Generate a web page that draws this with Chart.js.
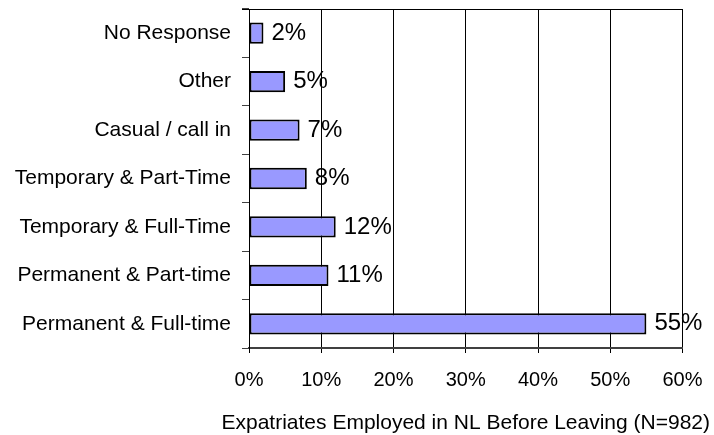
<!DOCTYPE html>
<html>
<head>
<meta charset="utf-8">
<script src="https://cdn.jsdelivr.net/npm/chart.js@4/dist/chart.umd.min.js"></script>
<style>
  html,body{margin:0;padding:0;background:#fff;}
  #wrap{width:714px;height:435px;}
</style>
</head>
<body>
<div id="wrap"><canvas id="c" width="714" height="435"></canvas></div>
<script>
// employment status before leaving, % of respondents
const categories = ["No Response","Other","Casual / call in","Temporary & Part-Time","Temporary & Full-Time","Permanent & Part-time","Permanent & Full-time"];
const shares = [2, 5, 7, 8, 12, 11, 55];
const xTicks = [0, 10, 20, 30, 40, 50, 60];
const xTitle = "Expatriates Employed in NL Before Leaving (N=982)";

const FONT = "'Liberation Sans', Arial, sans-serif";

// value labels, top border, and the x title (chart.js would squeeze it to the plot width)
const extras = {
  id: "extras",
  afterDraw(chart){
    const ctx = chart.ctx;
    const meta = chart.getDatasetMeta(0);
    const a = chart.chartArea;
    ctx.save();
    ctx.font = "24px " + FONT;
    ctx.fillStyle = "#000";
    ctx.textAlign = "left";
    ctx.textBaseline = "middle";
    meta.data.forEach((bar,i)=>{
      ctx.fillText(shares[i] + "%", bar.x + 8, bar.y);
    });
    ctx.strokeStyle = "#000";
    ctx.lineWidth = 1;
    ctx.beginPath();
    ctx.moveTo(a.left - 7, a.top + 0.5);
    ctx.lineTo(a.right, a.top + 0.5);
    ctx.stroke();
    ctx.font = "21px " + FONT;
    ctx.textAlign = "center";
    ctx.textBaseline = "alphabetic";
    ctx.fillText(xTitle, (a.left + a.right) / 2, chart.scales.x.bottom - 6);
    ctx.restore();
  }
};

new Chart(document.getElementById("c"), {
  type: "bar",
  data: {
    labels: categories,
    datasets: [{
      data: shares,
      backgroundColor: "#9999ff",
      borderColor: "#000",
      borderWidth: 2,
      borderSkipped: false,
      categoryPercentage: 1,
      barPercentage: 0.44
    }]
  },
  options: {
    indexAxis: "y",
    responsive: false,
    animation: false,
    layout: { padding: { top: 9, right: 31.5, left: 0, bottom: 0 } },
    plugins: { legend: { display: false }, tooltip: { enabled: false } },
    scales: {
      x: {
        min: 0, max: 60,
        afterBuildTicks: s => { s.ticks = xTicks.map(v => ({ value: v })); },
        afterFit: s => { s.height = 87; s.paddingLeft = 0; s.paddingRight = 0; },
        ticks: { callback: v => v + "%", color: "#000", font: { family: FONT, size: 20 }, padding: 15, maxRotation: 0 },
        grid: { color: "#000", lineWidth: 1, tickLength: 5, tickColor: "#000" },
        border: { color: "#404040", width: 2 }
      },
      y: {
        afterFit: s => { s.width = 249; s.paddingTop = 0; s.paddingBottom = 0; },
        ticks: { color: "#000", font: { family: FONT, size: 21 }, padding: 11 },
        grid: { offset: true, drawOnChartArea: false, tickLength: 7, tickColor: "#404040" },
        border: { color: "#000", width: 1 }
      }
    }
  },
  plugins: [extras]
});
</script>
</body>
</html>
